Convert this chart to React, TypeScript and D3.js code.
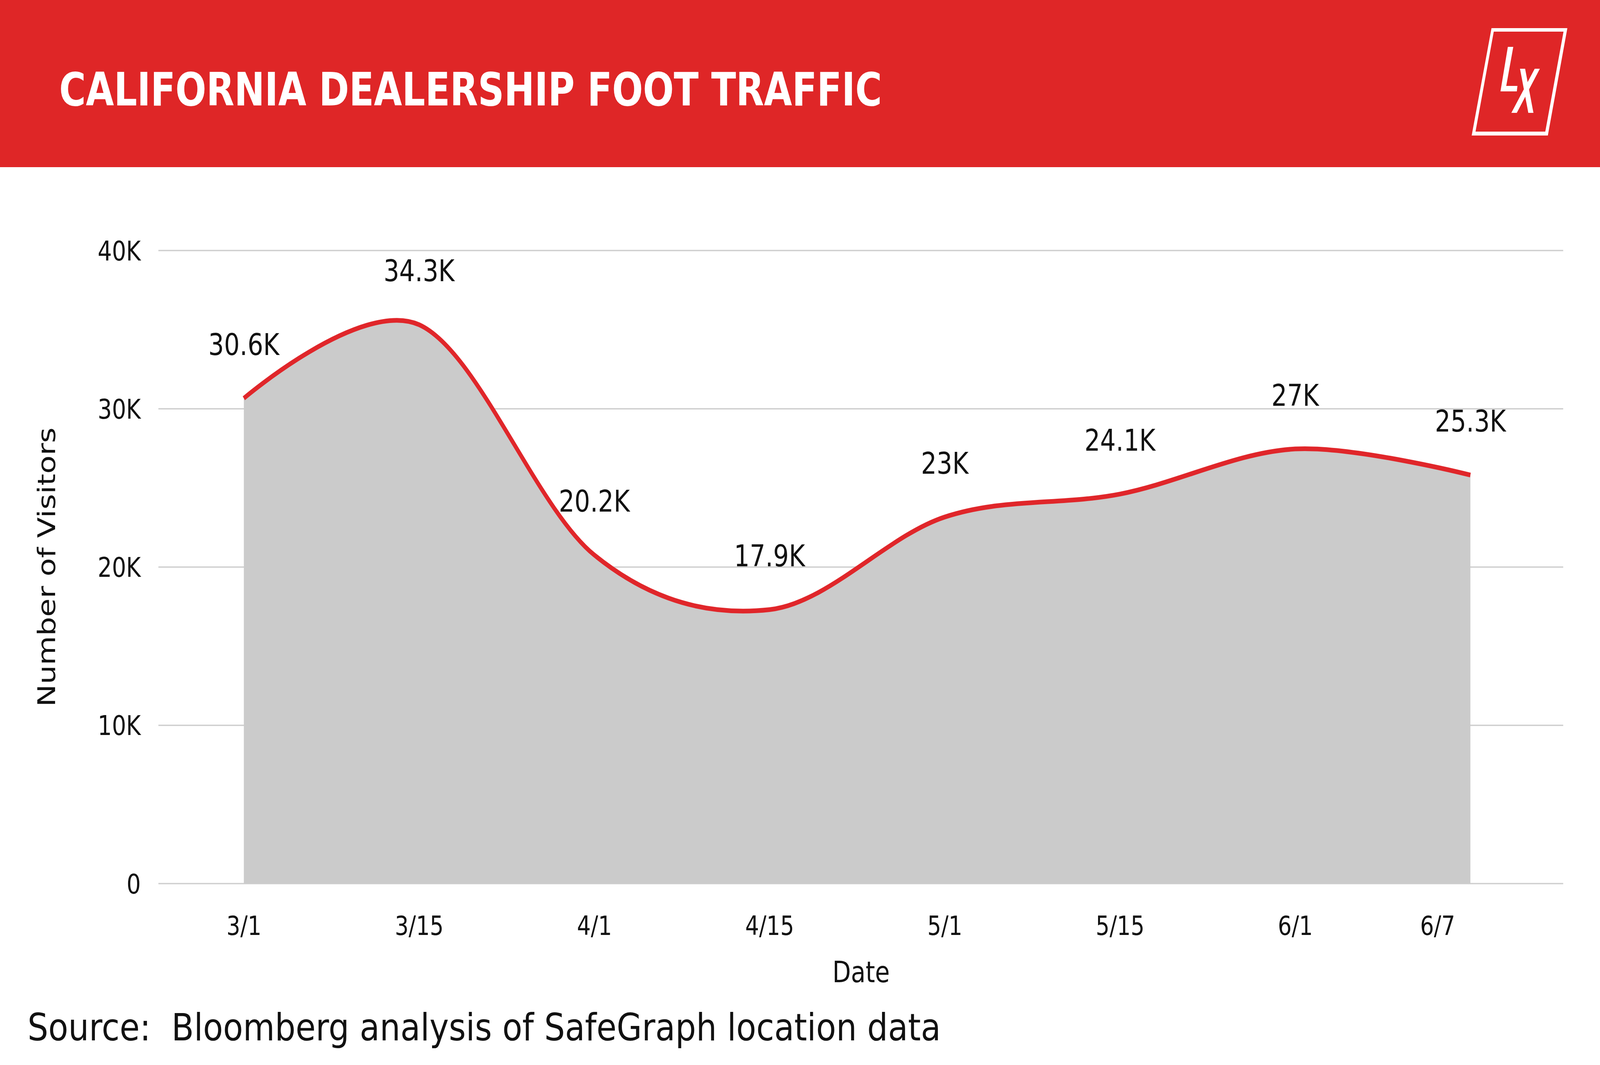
import { useRef, useEffect } from "react";
import * as d3 from "d3";

// data
const dates = ["3/1", "3/15", "4/1", "4/15", "5/1", "5/15", "6/1", "6/7"];
const visitors = [30650, 35300, 20750, 17300, 23150, 24600, 27450, 25800];
const valueLabels = ["30.6K", "34.3K", "20.2K", "17.9K", "23K", "24.1K", "27K", "25.3K"];
const yTicks = [0, 10000, 20000, 30000, 40000];

const W = 5000;
const H = 2727;
const RED = "#df2627";
const FONT = "'DejaVu Sans', sans-serif";

export default function App() {
  const svgRef = useRef<SVGSVGElement>(null);

  useEffect(() => {
    document.body.style.margin = "0";
    document.body.style.overflow = "hidden";
    if (!svgRef.current) return;
    const svg = d3.select(svgRef.current);
    svg.selectAll("*").remove();

    const gridLeft = 495;
    const gridRight = 4885;

    const x = d3.scalePoint<string>().domain(dates).range([762, 4595]);
    const y = d3.scaleLinear().domain([0, 40000]).range([2262, 641]);

    svg.append("rect").attr("width", W).attr("height", H).attr("fill", "#fff");

    // header band
    svg.append("rect").attr("x", 0).attr("y", 0).attr("width", W).attr("height", 428).attr("fill", RED);

    svg
      .append("text")
      .attr("x", 185)
      .attr("y", 270)
      .attr("fill", "#fff")
      .attr("font-family", FONT)
      .attr("font-weight", 700)
      .attr("font-size", 118)
      .attr("textLength", 2571)
      .attr("lengthAdjust", "spacingAndGlyphs")
      .text("CALIFORNIA DEALERSHIP FOOT TRAFFIC");

    // LX logo
    const logo = svg.append("g").attr("fill", "#fff");
    logo
      .append("path")
      .attr("fill-rule", "evenodd")
      .attr(
        "d",
        "M4661,72L4898,72L4837,347L4599,347Z M4668,81L4886,81L4829,337L4611,337Z"
      );
    logo.append("path").attr("d", "M4712,120L4729,120L4707,220L4742,220L4740,234L4689,234Z");
    logo.append("path").attr("d", "M4750,176L4766,176L4792,289L4776,289Z");
    logo.append("path").attr("d", "M4796,176L4812,176L4740,289L4723,289Z");

    // y axis with gridlines
    svg
      .append("g")
      .attr("transform", `translate(${gridLeft},0)`)
      .call(
        d3
          .axisLeft(y)
          .tickValues(yTicks)
          .tickSize(-(gridRight - gridLeft))
          .tickPadding(55)
          .tickFormat((d) => (Number(d) === 0 ? "0" : `${Number(d) / 1000}K`))
      )
      .call((axis) => {
        axis.select(".domain").remove();
        axis.selectAll(".tick line").attr("stroke", "#cfcfcf").attr("stroke-width", 3.5);
        axis
          .selectAll(".tick text")
          .attr("fill", "#111")
          .attr("font-family", FONT)
          .attr("font-size", 70)
          .attr("dy", "0.36em");
      });

    // area + line
    const curve = d3.curveCardinal.tension(0);
    const area = d3
      .area<number>()
      .x((_, i) => x(dates[i]) as number)
      .y0(y(0))
      .y1((d) => y(d))
      .curve(curve);

    svg.append("path").datum(visitors).attr("fill", "#cbcbcb").attr("d", area);

    const line = d3
      .line<number>()
      .x((_, i) => x(dates[i]) as number)
      .y((d) => y(d))
      .curve(curve);

    svg
      .append("path")
      .datum(visitors)
      .attr("fill", "none")
      .attr("stroke", "#e0262a")
      .attr("stroke-width", 12)
      .attr("d", line);

    // value labels
    svg
      .append("g")
      .selectAll("text")
      .data(visitors)
      .join("text")
      .attr("x", (_, i) => x(dates[i]) as number)
      .attr("y", (d) => y(d) - 111)
      .attr("text-anchor", "middle")
      .attr("font-family", FONT)
      .attr("font-size", 77)
      .attr("fill", "#111")
      .text((_, i) => valueLabels[i]);

    // x axis labels
    svg
      .append("g")
      .attr("transform", `translate(0,${y(0)})`)
      .call(d3.axisBottom(x).tickSize(0).tickPadding(0))
      .call((axis) => {
        axis.select(".domain").remove();
        axis
          .selectAll<SVGTextElement, string>(".tick text")
          .attr("fill", "#111")
          .attr("font-family", FONT)
          .attr("font-size", 68)
          .attr("y", 132)
          .attr("dy", 0)
          // the last date label sits left of its point in the original
          .attr("dx", (d) => (d === dates[dates.length - 1] ? -103 : 0));
      });

    svg
      .append("text")
      .attr("x", 2691)
      .attr("y", 2515)
      .attr("text-anchor", "middle")
      .attr("font-family", FONT)
      .attr("font-size", 75)
      .attr("fill", "#111")
      .text("Date");

    svg
      .append("text")
      .attr("transform", "translate(172,1452) rotate(-90)")
      .attr("text-anchor", "middle")
      .attr("font-family", FONT)
      .attr("font-size", 77)
      .attr("fill", "#111")
      .text("Number of Visitors");

    svg
      .append("text")
      .attr("x", 86)
      .attr("y", 2664)
      .attr("font-family", FONT)
      .attr("font-size", 97)
      .attr("fill", "#111")
      .attr("textLength", 2854)
      .attr("lengthAdjust", "spacingAndGlyphs")
      .style("white-space", "pre")
      .text("Source:  Bloomberg analysis of SafeGraph location data");
  }, []);

  // the window may not keep the 5000x2727 shape, so stretch the drawing to fill it
  return (
    <svg
      ref={svgRef}
      viewBox={`0 0 ${W} ${H}`}
      preserveAspectRatio="none"
      style={{ position: "absolute", left: 0, top: 0, width: "100vw", height: "100vh", display: "block" }}
    />
  );
}
